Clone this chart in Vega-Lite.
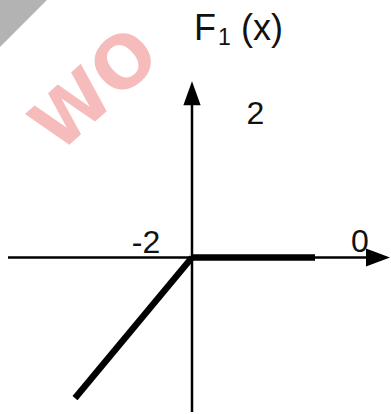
{
  "$schema": "https://vega.github.io/schema/vega-lite/v6.json",
  "width": 391,
  "height": 414,
  "padding": 0,
  "autosize": {"type": "fit", "contains": "padding"},
  "background": "white",
  "config": {"view": {"stroke": null}},
  "datasets": {
    "axes": [
      {"x": -3.067, "y": 0, "x2": 2.95, "y2": 0},
      {"x": 0, "y": -2.6, "x2": 0, "y2": 2.6}
    ],
    "graph": [
      {"x": 0, "y": 0, "x2": 2.05, "y2": 0},
      {"x": 0, "y": 0, "x2": -1.95, "y2": -2.367}
    ],
    "arrowRight": [{"x": 3.3, "y": 0}],
    "arrowUp": [{"x": 0, "y": 2.967}],
    "ticks": [
      {"x": -0.767, "y": 0.083, "label": "-2"},
      {"x": 2.8, "y": 0.1, "label": "0"},
      {"x": 1.058, "y": 2.25, "label": "2"}
    ],
    "fmain": [
      {"x": 0.033, "y": 3.667, "label": "F"},
      {"x": 0.817, "y": 3.667, "label": "(x)"}
    ],
    "fsub": [{"x": 0.433, "y": 3.583, "label": "1"}],
    "wmGray": [{"x": -3.2, "y": 4.333}],
    "wmText": [{"x": -1.6, "y": 2.8, "label": "WO"}]
  },
  "encoding": {
    "x": {"field": "x", "type": "quantitative", "scale": {"domain": [-3.2, 3.3167], "nice": false, "zero": false}, "axis": null},
    "y": {"field": "y", "type": "quantitative", "scale": {"domain": [-2.5667, 4.3333], "nice": false, "zero": false}, "axis": null}
  },
  "layer": [
    {
      "data": {"name": "wmGray"},
      "mark": {"type": "point", "shape": "square", "filled": true, "color": "#b3b3b3", "opacity": 1, "size": 4400, "angle": 45, "clip": true}
    },
    {
      "data": {"name": "wmText"},
      "mark": {"type": "text", "font": "DejaVu Sans", "fontWeight": "bold", "fontSize": 72, "color": "#f6bcbc", "angle": -42, "align": "center", "baseline": "middle"},
      "encoding": {"text": {"field": "label"}}
    },
    {
      "data": {"name": "axes"},
      "mark": {"type": "rule", "color": "black", "strokeWidth": 2.5},
      "encoding": {"x2": {"field": "x2"}, "y2": {"field": "y2"}}
    },
    {
      "data": {"name": "graph"},
      "mark": {"type": "rule", "color": "black", "strokeWidth": 6.5, "strokeCap": "butt"},
      "encoding": {"x2": {"field": "x2"}, "y2": {"field": "y2"}}
    },
    {
      "data": {"name": "arrowRight"},
      "mark": {"type": "point", "shape": "M 0 0 L -2 -0.75 L -2 0.75 Z", "filled": true, "color": "black", "opacity": 1, "size": 576}
    },
    {
      "data": {"name": "arrowUp"},
      "mark": {"type": "point", "shape": "M 0 0 L -0.72 2 L 0.72 2 Z", "filled": true, "color": "black", "opacity": 1, "size": 576}
    },
    {
      "data": {"name": "ticks"},
      "mark": {"type": "text", "font": "Liberation Sans", "fontSize": 32, "color": "#111111", "align": "center", "baseline": "alphabetic"},
      "encoding": {"text": {"field": "label"}}
    },
    {
      "data": {"name": "fmain"},
      "mark": {"type": "text", "font": "Liberation Sans", "fontSize": 36, "color": "#111111", "align": "left", "baseline": "alphabetic"},
      "encoding": {"text": {"field": "label"}}
    },
    {
      "data": {"name": "fsub"},
      "mark": {"type": "text", "font": "Liberation Sans", "fontSize": 23, "color": "#111111", "align": "left", "baseline": "alphabetic"},
      "encoding": {"text": {"field": "label"}}
    }
  ]
}
